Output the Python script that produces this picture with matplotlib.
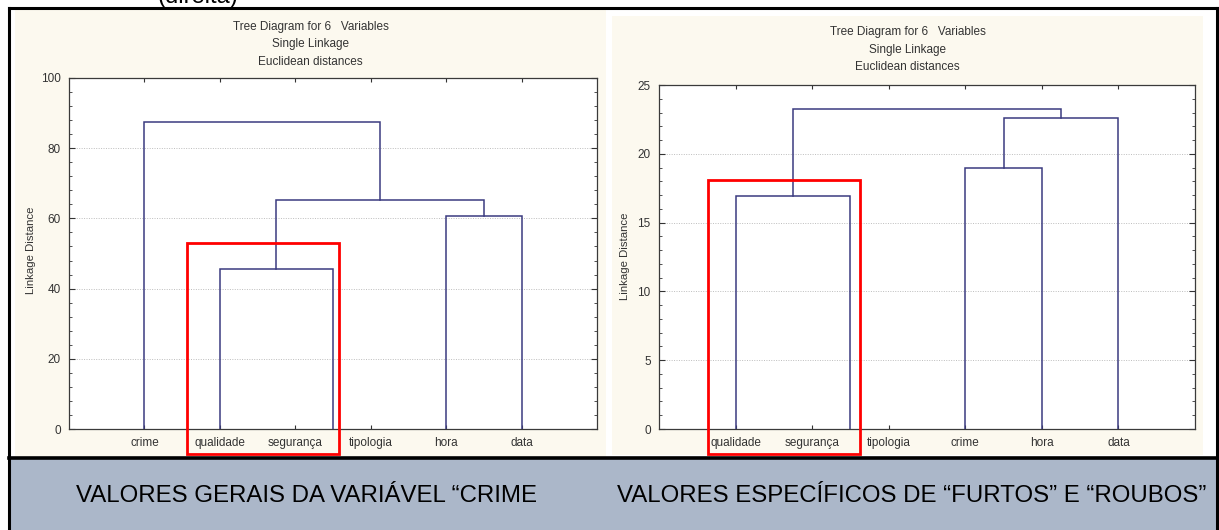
import matplotlib
matplotlib.use("Agg")
import matplotlib.pyplot as plt
from matplotlib.patches import Rectangle
from matplotlib.lines import Line2D
from matplotlib.ticker import MultipleLocator

plt.rcParams['font.family'] = ['Liberation Sans', 'DejaVu Sans']

# ---- data -------------------------------------------------------------
title_lines = ["Tree Diagram for 6   Variables", "Single Linkage", "Euclidean distances"]
y_label = "Linkage Distance"

# general values of the "crime" variable
left_labels = ['crime', 'qualidade', 'segurança', 'tipologia', 'hora', 'data']
left_leaf_pos = {'crime': 1, 'qualidade': 2, 'segurança': 3.5, 'hora': 5, 'data': 6}
left_merges = [
    ('A', 'qualidade', 'segurança', 45.6),
    ('B', 'hora', 'data', 60.8),
    ('C', 'A', 'B', 65.2),
    ('D', 'crime', 'C', 87.5),
]
left_ylim = (0, 100)
left_yticks = [0, 20, 40, 60, 80, 100]

# specific values for thefts and robberies
right_labels = ['qualidade', 'segurança', 'tipologia', 'crime', 'hora', 'data']
right_leaf_pos = {'qualidade': 1, 'segurança': 2.5, 'crime': 4, 'hora': 5, 'data': 6}
right_merges = [
    ('A', 'qualidade', 'segurança', 16.95),
    ('B', 'crime', 'hora', 19.0),
    ('C', 'B', 'data', 22.6),
    ('D', 'A', 'C', 23.25),
]
right_ylim = (0, 25)
right_yticks = [0, 5, 10, 15, 20, 25]

caption_top = "(direita)"
caption_left = "VALORES GERAIS DA VARIÁVEL \u201cCRIME"
caption_right = "VALORES ESPECÍFICOS DE \u201cFURTOS\u201d E \u201cROUBOS\u201d"

# ---- layout helpers ----------------------------------------------------
W, H = 1219, 530
fig = plt.figure(figsize=(W / 100, H / 100), dpi=100, facecolor='white')


def box(x0, y0, x1, y1):
    return [x0 / W, 1 - y1 / H, (x1 - x0) / W, (y1 - y0) / H]


def fig_rect(x0, y0, x1, y1, **kw):
    r = Rectangle((x0 / W, 1 - y1 / H), (x1 - x0) / W, (y1 - y0) / H,
                  transform=fig.transFigure, **kw)
    fig.patches.append(r)
    return r


def fig_line(xs, ys, **kw):
    fig.lines.append(Line2D([x / W for x in xs], [1 - y / H for y in ys],
                            transform=fig.transFigure, **kw))


CREAM = '#FCF9EF'
BAND = '#ABB7C9'
LINK = '#3B3B80'
TXT = '#333333'

# panel backgrounds
fig_rect(15, 9, 606, 456, facecolor=CREAM, edgecolor='none', zorder=-2)
fig_rect(612, 16, 1203, 455, facecolor=CREAM, edgecolor='none', zorder=-2)
fig_rect(9, 459, 1217, 531, facecolor=BAND, edgecolor='none', zorder=-2)

# outer frame
fig_line([9, 1217], [8, 8], color='black', lw=2.2, zorder=4)
fig_line([9, 9], [8, 531], color='black', lw=2.2, zorder=4)
fig_line([1217, 1217], [8, 531], color='black', lw=2.2, zorder=4)
fig_line([9, 1217], [458, 458], color='black', lw=2.6, zorder=4)

fig.text(198 / W, 1 - 3 / H, caption_top, ha='center', va='baseline',
         fontsize=17, color='black')


def dendrogram(ax, labels, leaf_pos, merges, ylim, yticks, minor):
    xpos = dict(leaf_pos)
    ypos = {k: 0.0 for k in leaf_pos}
    for name, a, b, h in merges:
        xa, xb = xpos[a], xpos[b]
        ax.plot([xa, xa, xb, xb], [ypos[a], h, h, ypos[b]],
                color=LINK, lw=1.1, solid_joinstyle='miter', zorder=3)
        xpos[name] = (xa + xb) / 2
        ypos[name] = h
    ax.set_xlim(0, len(labels) + 1)
    ax.set_ylim(*ylim)
    ax.set_xticks(range(1, len(labels) + 1))
    ax.set_xticklabels(labels)
    ax.set_yticks(yticks)
    ax.yaxis.set_minor_locator(MultipleLocator(minor))
    ax.grid(axis='y', which='major', linestyle=(0, (1, 1.5)), color='#BDBDBD', lw=0.7)
    ax.set_axisbelow(True)
    ax.tick_params(axis='both', which='both', direction='in', colors=TXT,
                   labelsize=8.5, top=True, right=True)
    ax.tick_params(axis='y', which='major', length=4, pad=6)
    ax.tick_params(axis='y', which='minor', length=2.5)
    ax.tick_params(axis='x', which='major', length=3, pad=6)
    for s in ax.spines.values():
        s.set_color('#3A3A3A')
        s.set_linewidth(0.9)
    ax.set_facecolor('white')


axL = fig.add_axes(box(69, 78, 597, 429), zorder=1)
dendrogram(axL, left_labels, left_leaf_pos, left_merges, left_ylim, left_yticks, 4)
axR = fig.add_axes(box(659, 85, 1195, 429), zorder=1)
dendrogram(axR, right_labels, right_leaf_pos, right_merges, right_ylim, right_yticks, 1)

# titles, centred on each panel
for cx, y0 in [(310.5, 27), (907.5, 32)]:
    for i, line in enumerate(title_lines):
        fig.text(cx / W, 1 - (y0 + i * 17.5) / H, line, ha='center', va='center',
                 fontsize=8.5, color=TXT)

# y axis labels
fig.text(31 / W, 1 - 250 / H, y_label, rotation=90, ha='center', va='center',
         fontsize=8.2, color=TXT)
fig.text(625 / W, 1 - 256 / H, y_label, rotation=90, ha='center', va='center',
         fontsize=8.2, color=TXT)

# highlighted groups
fig_rect(187, 243, 339, 454, facecolor='none', edgecolor='#FF0000', lw=2.0, zorder=5)
fig_rect(708, 180, 860, 454, facecolor='none', edgecolor='#FF0000', lw=2.0, zorder=5)

# captions
fig.text(306 / W, 1 - 496 / H, caption_left, ha='center', va='center',
         fontsize=17.3, color='black')
fig.text(912 / W, 1 - 496 / H, caption_right, ha='center', va='center',
         fontsize=17.3, color='black')

fig.savefig('out.png', dpi=100, facecolor='white')
